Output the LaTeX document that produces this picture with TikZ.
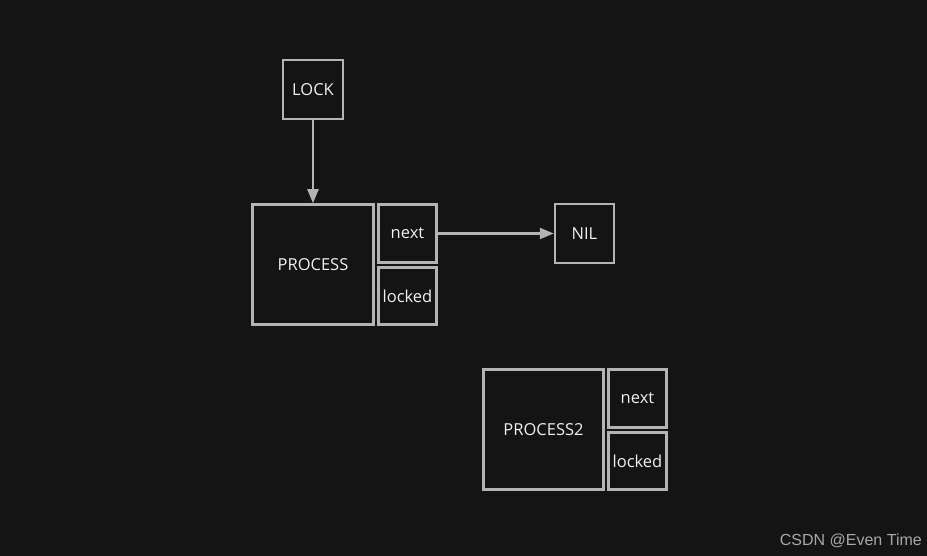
\documentclass[tikz,border=0pt]{standalone}
\usepackage{fontspec}
\setmainfont{Open Sans}
\newfontfamily\wmfont{Liberation Sans}
\usetikzlibrary{arrows.meta}
\definecolor{bgc}{HTML}{141414}
\definecolor{linec}{HTML}{B4B4B4}
\definecolor{txtc}{HTML}{F0F0F0}
\definecolor{wmc}{HTML}{A8A8A8}
\tikzset{
  box/.style={draw=linec, line width=2.5pt, fill=bgc, text=txtc, inner sep=0pt,
    font=\fontsize{16.5}{19}\selectfont},
  conn/.style={draw=linec, line width=2.2pt, -{Triangle[length=14pt,width=11pt]}},
}
\begin{document}
\begin{tikzpicture}[x=1pt,y=-1pt]
\fill[bgc] (0,0) rectangle (927,556);
\useasboundingbox (0,0) rectangle (927,556);
\node[box, minimum width=60pt, minimum height=59pt] (lock) at (313,89.5) {LOCK};
\node[box, minimum width=121pt, minimum height=120pt] (proc) at (313,264.5) {PROCESS};
\node[box, minimum width=58pt, minimum height=58pt] (next) at (407.5,233.5) {next};
\node[box, minimum width=58pt, minimum height=57pt] (locked) at (407.5,296) {locked};
\node[box, minimum width=59pt, minimum height=59pt] (nil) at (584.5,233.5) {NIL};
\node[box, minimum width=120pt, minimum height=120pt] (proc2) at (543.5,429.5) {PROCESS2};
\node[box, minimum width=58pt, minimum height=58pt] (next2) at (637.5,398.5) {next};
\node[box, minimum width=58pt, minimum height=57pt] (locked2) at (637.5,461) {locked};
\draw[conn] (lock.south) -- (proc.north);
\draw[conn] (next.east) -- (nil.west);
\node[anchor=base east, text=wmc, inner sep=0pt, font=\wmfont\fontsize{16}{18}\selectfont] (wm) at (922,545) {CSDN @Even Time};
\end{tikzpicture}
\end{document}
